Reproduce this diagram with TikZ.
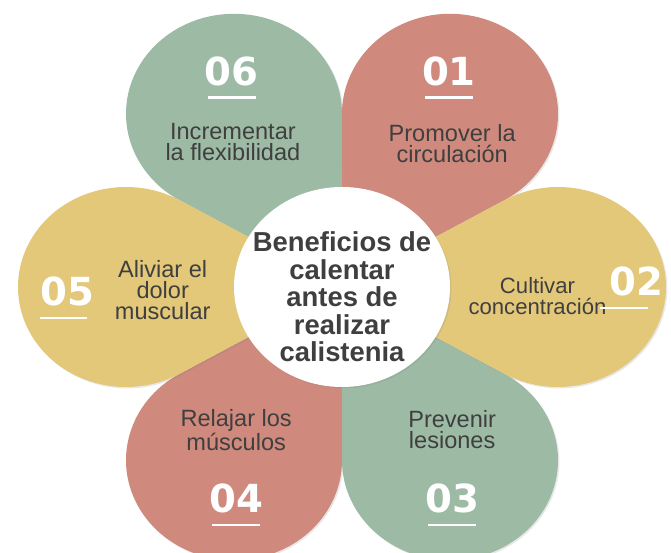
\documentclass[tikz,border=0pt]{standalone}
\usepackage{fontspec}
\setmainfont{Liberation Sans}
\newfontfamily\numfont{DejaVu Sans}
\usepackage{xcolor}
\usepackage{tikz}
\usetikzlibrary{shadows}

\definecolor{petred}{HTML}{CF897D}
\definecolor{petgreen}{HTML}{9DBBA4}
\definecolor{petyellow}{HTML}{E3C87A}
\definecolor{inkgray}{HTML}{3F3F3F}

\begin{document}
\begin{tikzpicture}[x={(2.16cm,0)}, y={(0,2cm)},
    petal/.style={drop shadow={opacity=0.18, shadow xshift=0.8pt, shadow yshift=-0.8pt}},
    hub/.style={align=center, text=inkgray, font=\bfseries\fontsize{15.6}{15.7}\selectfont},
    desc/.style={align=center, text=inkgray, font=\fontsize{13.4}{12}\selectfont},
    num/.style={text=white, font=\numfont\bfseries\fontsize{22}{22}\selectfont},
    uline/.style={white, line width=1.7pt}]
  \useasboundingbox (-3.1667,-2.66) rectangle (3.0463,2.87);

  % petals, back to front
  \foreach \ang/\col in {120/petgreen, -120/petred, 60/petred, -60/petgreen, 0/petyellow, 180/petyellow}{%
    \fill[\col, petal] (0,0) -- (\ang-30:1.732) arc[start angle=\ang-120, end angle=\ang+120, radius=1] -- cycle;
  }

  % centre disc
  \fill[white, petal] (0,0) circle[radius=1];
  \node[hub] (hub) at (0,-0.1) {Beneficios de\\calentar\\antes de\\realizar\\calistenia};

  \node[desc] (d01) at (1.02,1.43) {Promover la\\circulación};
  \node[desc, font=\fontsize{12.6}{12}\selectfont] (d02) at (1.81,-0.09) {Cultivar\\concentración};
  \node[desc] (d03) at (1.02,-1.43) {Prevenir\\lesiones};
  \node[desc] (d04) at (-0.98,-1.43) {Relajar los\\músculos};
  \node[desc] (d05) at (-1.66,-0.03) {Aliviar el\\dolor\\muscular};
  \node[desc] (d06) at (-1.01,1.45) {Incrementar\\la flexibilidad};

  \foreach \n/\x/\y/\dx in {01/0.99/2.16/0, 02/2.73/0.06/-0.12, 03/1.02/-2.11/0, 04/-0.98/-2.11/0, 05/-2.54/-0.04/-0.04, 06/-1.02/2.16/0}{%
    \node[num] (n\n) at (\x,\y) {\n};
    \draw[uline] ([shift={(\dx-0.22,-0.27)}]n\n.center) -- ([shift={(\dx+0.22,-0.27)}]n\n.center);
  }
\end{tikzpicture}
\end{document}
